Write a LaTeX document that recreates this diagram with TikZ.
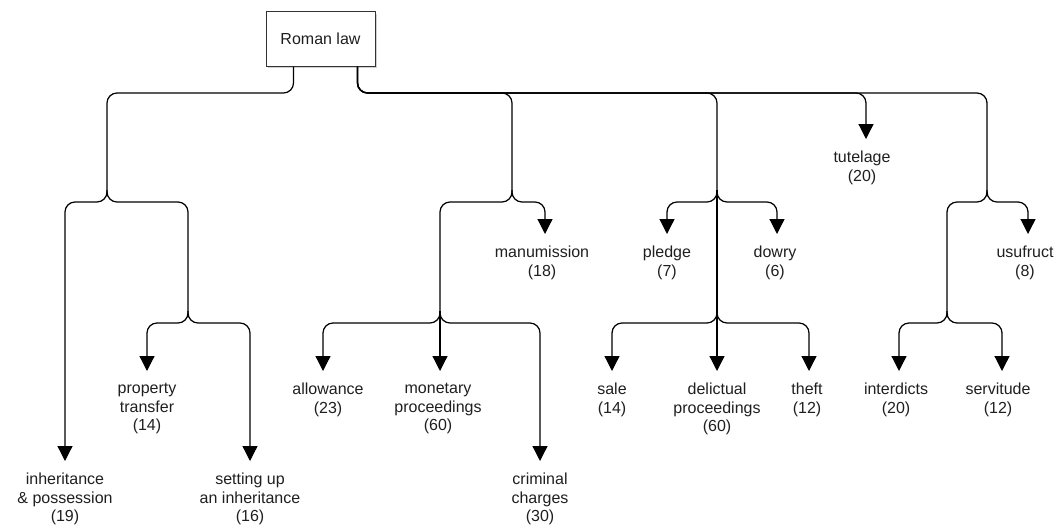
\documentclass[tikz,border=0pt]{standalone}
\usepackage{fontspec}
\setmainfont{Liberation Sans}
\usetikzlibrary{arrows.meta,shadows}
\begin{document}
\begin{tikzpicture}[x=1pt,y=-1pt,
  edge/.style={draw=black, line width=1.25pt, rounded corners=10pt},
  arr/.style={edge, -{Triangle[length=15pt,width=15pt]}},
  leaf/.style={anchor=north, inner sep=0pt, align=center, text=black!88,
    font=\fontsize{16}{18.5}\selectfont},
  rootbox/.style={draw=black!80, fill=white, line width=1pt, minimum width=109pt,
    minimum height=54pt, inner sep=0pt, text=black!88, font=\fontsize{16}{18.5}\selectfont,
    drop shadow={shadow xshift=2pt, shadow yshift=-2pt, opacity=0.18, fill=black}}
]
\useasboundingbox (0,0) rectangle (1056,527);

% root
\node[rootbox] (root) at (320.5,39) {Roman law};

% junctions
\coordinate (J1a) at (107,190);
\coordinate (J1b) at (188,311);
\coordinate (J2a) at (512,190);
\coordinate (J2b) at (440,311);
\coordinate (J3a) at (717,190);
\coordinate (J3b) at (717,311);
\coordinate (J4a) at (987,190);
\coordinate (J4b) at (947,311);

% arrow tips
\coordinate (tTut) at (866,139);
\coordinate (tMan) at (545,234);
\coordinate (tPle) at (667,234);
\coordinate (tDow) at (777,234);
\coordinate (tUsu) at (1028,234);
\coordinate (tInh) at (65,461);
\coordinate (tPro) at (147,371);
\coordinate (tSet) at (250,461);
\coordinate (tAll) at (323,371);
\coordinate (tMon) at (440,371);
\coordinate (tCri) at (540,461);
\coordinate (tSal) at (612,371);
\coordinate (tDel) at (717,371);
\coordinate (tThe) at (809,371);
\coordinate (tInt) at (899,371);
\coordinate (tSer) at (1002,371);

% labels
\node[leaf] (tut) at (862,151) {tutelage\\(20)};
\node[leaf] (man) at (542,246) {manumission\\(18)};
\node[leaf] (ple) at (667,246) {pledge\\(7)};
\node[leaf] (dow) at (775,246) {dowry\\(6)};
\node[leaf] (usu) at (1025,246) {usufruct\\(8)};
\node[leaf] (inh) at (65,473) {inheritance\\\& possession\\(19)};
\node[leaf] (pro) at (147,383) {property\\transfer\\(14)};
\node[leaf] (set) at (250,473) {setting up\\an inheritance\\(16)};
\node[leaf] (all) at (328,383) {allowance\\(23)};
\node[leaf] (mon) at (438,383) {monetary\\proceedings\\(60)};
\node[leaf] (cri) at (540,473) {criminal\\charges\\(30)};
\node[leaf] (sal) at (612,383) {sale\\(14)};
\node[leaf] (del) at (717,383) {delictual\\proceedings\\(60)};
\node[leaf] (the) at (807,383) {theft\\(12)};
\node[leaf] (int) at (896,383) {interdicts\\(20)};
\node[leaf] (ser) at (998,383) {servitude\\(12)};

% root to first level
\draw[edge] ([xshift=28pt]root.south west) |- (J1a |- 0,93) -- (J1a);
\draw[edge] ([xshift=92pt]root.south west) |- (J2a |- 0,93) -- (J2a);
\draw[edge] ([xshift=92pt]root.south west) |- (J3a |- 0,93) -- (J3a);
\draw[arr]  ([xshift=92pt]root.south west) |- (tTut |- 0,93) -- (tTut);
\draw[edge] ([xshift=92pt]root.south west) |- (J4a |- 0,93) -- (J4a);

% left subtree
\draw[arr]  (J1a) |- (tInh |- 0,202) -- (tInh);
\draw[edge] (J1a) |- (J1b |- 0,202) -- (J1b);
\draw[arr]  (J1b) |- (tPro |- 0,323) -- (tPro);
\draw[arr]  (J1b) |- (tSet |- 0,323) -- (tSet);

% second subtree
\draw[arr]  (J2a) |- (tMan |- 0,202) -- (tMan);
\draw[edge] (J2a) |- (J2b |- 0,202) -- (J2b);
\draw[arr]  (J2b) |- (tAll |- 0,323) -- (tAll);
\draw[arr]  (J2b) -- (tMon);
\draw[arr]  (J2b) |- (tCri |- 0,323) -- (tCri);

% third subtree
\draw[arr]  (J3a) |- (tPle |- 0,202) -- (tPle);
\draw[arr]  (J3a) |- (tDow |- 0,202) -- (tDow);
\draw[edge] (J3a) -- (J3b);
\draw[arr]  (J3b) |- (tSal |- 0,323) -- (tSal);
\draw[arr]  (J3b) -- (tDel);
\draw[arr]  (J3b) |- (tThe |- 0,323) -- (tThe);

% fourth subtree
\draw[arr]  (J4a) |- (tUsu |- 0,202) -- (tUsu);
\draw[edge] (J4a) |- (J4b |- 0,202) -- (J4b);
\draw[arr]  (J4b) |- (tInt |- 0,323) -- (tInt);
\draw[arr]  (J4b) |- (tSer |- 0,323) -- (tSer);
\end{tikzpicture}
\end{document}
